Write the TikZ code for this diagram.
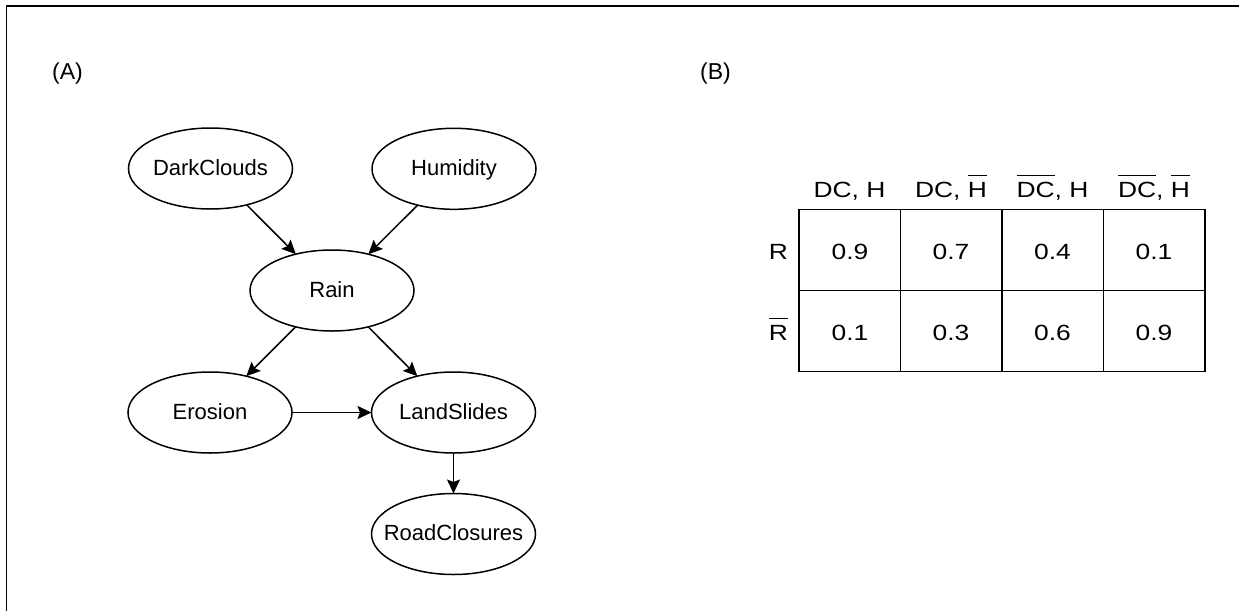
\documentclass[tikz,border=0pt]{standalone}
\usepackage{fontspec}
\setmainfont{Liberation Sans}
\newfontfamily\tabfont[FakeStretch=1.2]{Liberation Sans}
\usetikzlibrary{shapes.geometric,arrows.meta}

% bar drawn over a piece of text, standing clear of its top
\newcommand{\negbar}[1]{\leavevmode\vbox{\hrule height 1.6pt\kern 6pt\hbox{#1}}}

\begin{document}
\begin{tikzpicture}[x=1pt,y=-1pt,
  every node/.style={font=\fontsize{22}{26}\selectfont},
  varnode/.style={draw,ellipse,line width=1.5pt,minimum width=164pt,
    minimum height=81pt,inner sep=0pt,outer sep=0pt,
    text height=14pt,text depth=1pt},
  link/.style={draw,line width=1.5pt,
    -{Stealth[length=14pt,width=13pt,inset=2.5pt]}},
  tablabel/.style={anchor=base,inner sep=0pt,
    font=\tabfont\fontsize{22}{26}\selectfont},
  panel/.style={anchor=base,inner sep=0pt,
    font=\fontsize{23}{27}\selectfont},
  grid/.style={line width=1.5pt}]

\useasboundingbox (0,0) rectangle (1239,611);

% outer frame (only top and left edges fall inside the page)
\draw[line width=1.5pt] (6.5,611) -- (6.5,6) -- (1239,6);

% panel letters
\node[panel] (la) at (67.5,79.5) {(A)};
\node[panel] (lb) at (715.5,79.5) {(B)};

% Bayesian network
\node[varnode] (dc)   at (210.5,168.5) {\makebox[0pt]{DarkClouds}};
\node[varnode] (hum)  at (454,168.8)   {\makebox[0pt]{Humidity}};
\node[varnode] (rain) at (332,290.5)   {\makebox[0pt]{Rain}};
\node[varnode] (ero)  at (210,412.5)   {\makebox[0pt]{Erosion}};
\node[varnode] (ls)   at (453.5,412.5) {\makebox[0pt]{LandSlides}};
\node[varnode] (rc)   at (453.5,534)   {\makebox[0pt]{RoadClosures}};

\draw[link] (dc) -- (rain);
\draw[link] (hum) -- (rain);
\draw[link] (rain) -- (ero);
\draw[link] (rain) -- (ls);
\draw[link] (ero) -- (ls);
\draw[link] (ls) -- (rc);

% conditional probability table for Rain
\draw[grid] (799,209.3) rectangle (1205,371.7);
\draw[grid] (799,290.5) -- (1205,290.5);
\foreach \xx in {900.5,1002,1103.5}
  \draw[grid] (\xx,209.3) -- (\xx,371.7);

\node[tablabel] (h1) at (849.5,197.5)  {DC, H};
\node[tablabel] (h2) at (951,197.5)    {DC, \negbar{H}};
\node[tablabel] (h3) at (1052.5,197.5) {\negbar{DC}, H};
\node[tablabel] (h4) at (1154,197.5)   {\negbar{DC}, \negbar{H}};

\node[tablabel] (r1) at (778.5,259.3) {R};
\node[tablabel] (r2) at (778.5,340.5) {\negbar{R}};

\node[tablabel] (v11) at (850,259.3)    {0.9};
\node[tablabel] (v12) at (951,259.3)    {0.7};
\node[tablabel] (v13) at (1052.5,259.3) {0.4};
\node[tablabel] (v14) at (1154,259.3)   {0.1};
\node[tablabel] (v21) at (850,340.5)    {0.1};
\node[tablabel] (v22) at (951,340.5)    {0.3};
\node[tablabel] (v23) at (1052.5,340.5) {0.6};
\node[tablabel] (v24) at (1154,340.5)   {0.9};
\end{tikzpicture}
\end{document}
